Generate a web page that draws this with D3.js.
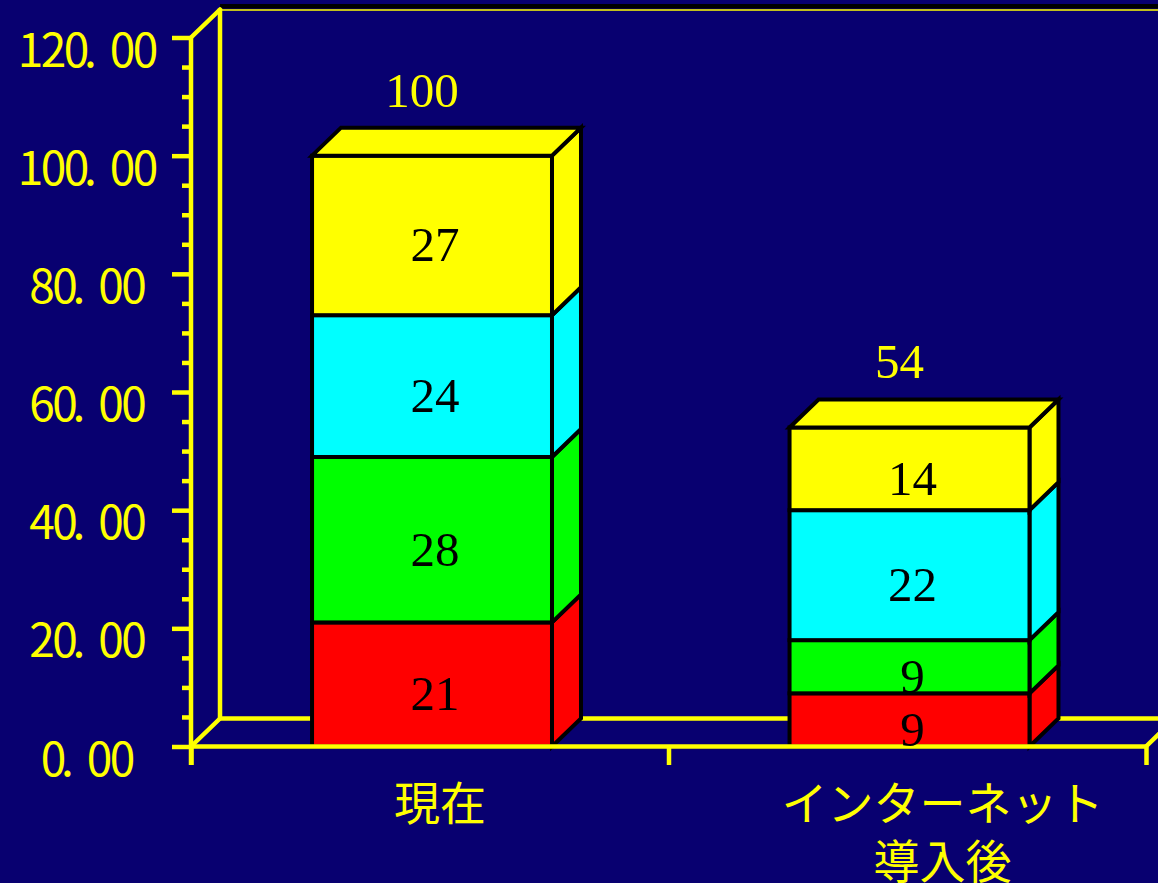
<!DOCTYPE html>
<html>
<head>
<meta charset="utf-8">
<script src="https://cdn.jsdelivr.net/npm/d3@7"></script>
<style>
  html, body { margin: 0; padding: 0; background: #080070; overflow: hidden; }
  svg { display: block; }
</style>
</head>
<body>
<svg id="chart" width="1158" height="883"></svg>
<script>
// ---- data ----
const categories = ["現在", "インターネット導入後"];
const categoryLines = [["現在"], ["インターネット", "導入後"]];
const seriesKeys = ["red", "green", "cyan", "yellow"];
const seriesColors = ["#FF0000", "#00FF00", "#00FFFF", "#FFFF00"];
const seriesRed = [21, 9];
const seriesGreen = [28, 9];
const seriesCyan = [24, 22];
const seriesYellow = [27, 14];
const yTicks = [0, 20, 40, 60, 80, 100, 120];
const yTickLabels = ["0.00", "20.00", "40.00", "60.00", "80.00", "100.00", "120.00"];

// ---- layout ----
const W = 1158, H = 883;
const axisLeftX = 191, axisRightX = 1146;
const dx = 29, dy = 28;            // 3D depth offset
const yellow = "#FFFF00";
const lineW = 4.5;

const svg = d3.select("#chart");
svg.append("rect").attr("width", W).attr("height", H).attr("fill", "#080070");

const y = d3.scaleLinear().domain([0, 120]).range([746.5, 37.5]);
const x = d3.scaleBand().domain(categories).range([axisLeftX, axisRightX]).padding(0);
const bw = x.bandwidth();
const barX = c => x(c) + bw * 0.2535;
const barW = bw * 0.5025;

const rows = categories.map((c, i) => ({
  cat: c,
  red: seriesRed[i], green: seriesGreen[i], cyan: seriesCyan[i], yellow: seriesYellow[i]
}));
const stacked = d3.stack().keys(seriesKeys)(rows);
const color = d3.scaleOrdinal().domain(seriesKeys).range(seriesColors);

// ---- back wall and floor ----
const back = svg.append("g");
back.append("rect")
  .attr("x", axisLeftX + dx).attr("y", y(120) - dy - 5.5)
  .attr("width", W - axisLeftX - dx).attr("height", 4.5)
  .attr("fill", "#000");
back.append("line")
  .attr("x1", axisLeftX + dx).attr("x2", W)
  .attr("y1", y(120) - dy + 0.5).attr("y2", y(120) - dy + 0.5)
  .attr("stroke", yellow).attr("stroke-width", 1.5);
back.append("line")                       // back vertical edge
  .attr("x1", axisLeftX + dx).attr("x2", axisLeftX + dx)
  .attr("y1", y(120) - dy - 1).attr("y2", y(0) - dy)
  .attr("stroke", yellow).attr("stroke-width", lineW);
back.append("line")                       // floor back edge
  .attr("x1", axisLeftX + dx).attr("x2", W)
  .attr("y1", y(0) - dy).attr("y2", y(0) - dy)
  .attr("stroke", yellow).attr("stroke-width", lineW);
[[axisLeftX, y(120)], [axisLeftX, y(0)], [axisRightX, y(0)]].forEach(([px, py]) => {
  back.append("line")
    .attr("x1", px).attr("y1", py).attr("x2", px + dx).attr("y2", py - dy)
    .attr("stroke", yellow).attr("stroke-width", lineW).attr("stroke-linecap", "round");
});

// ---- stacked 3D bars ----
const bars = svg.append("g").attr("stroke", "#000").attr("stroke-width", 4).attr("stroke-linejoin", "miter");
stacked.forEach((layer, li) => {
  layer.forEach((seg, ci) => {
    const c = categories[ci];
    const x0 = barX(c), x1 = x0 + barW;
    const yb = y(seg[0]), yt = y(seg[1]);
    const fill = color(layer.key);
    const g = bars.append("g").attr("fill", fill);
    // right side face
    g.append("path").attr("d", d3.line()([[x1, yb], [x1 + dx, yb - dy], [x1 + dx, yt - dy], [x1, yt]]) + "Z");
    // front face
    g.append("rect").attr("x", x0).attr("y", yt).attr("width", barW).attr("height", yb - yt);
    // top face on the uppermost segment
    if (li === stacked.length - 1) {
      g.append("path").attr("d", d3.line()([[x0, yt], [x0 + dx, yt - dy], [x1 + dx, yt - dy], [x1, yt]]) + "Z");
    }
  });
});

// ---- front axes ----
const front = svg.append("g");
front.append("line")
  .attr("x1", axisLeftX).attr("x2", axisLeftX)
  .attr("y1", y(120)).attr("y2", y(0) + 18.5)
  .attr("stroke", yellow).attr("stroke-width", lineW);
front.append("line")
  .attr("x1", axisLeftX).attr("x2", axisRightX)
  .attr("y1", y(0)).attr("y2", y(0))
  .attr("stroke", yellow).attr("stroke-width", lineW);

// major and minor ticks on the value axis
const majorAxis = d3.axisLeft(y).tickValues(yTicks).tickSize(19).tickFormat("");
const minorAxis = d3.axisLeft(y).tickValues(d3.range(0, 121, 5).filter(v => v % 20 !== 0)).tickSize(9).tickFormat("");
[majorAxis, minorAxis].forEach(ax => {
  const g = front.append("g").attr("transform", `translate(${axisLeftX},0)`).call(ax);
  g.select(".domain").remove();
  g.selectAll(".tick line").attr("stroke", yellow).attr("stroke-width", lineW);
});

// category boundary ticks
const xTickPos = categories.map(c => x(c)).concat([axisRightX]);
const xAxis = d3.axisBottom(d3.scaleIdentity()).tickValues(xTickPos).tickSize(18.5).tickFormat("");
const gx = front.append("g").attr("transform", `translate(0,${y(0)})`).call(xAxis);
gx.select(".domain").remove();
gx.selectAll(".tick line").attr("stroke", yellow).attr("stroke-width", lineW);

// ---- value-axis labels (fixed-cell digits) ----
const cell = 23, labelCX = 88;
const ylab = svg.append("g")
  .attr("fill", yellow)
  .attr("font-family", "'Noto Sans CJK JP', 'Noto Sans', sans-serif")
  .attr("font-size", 46)
  .attr("text-anchor", "middle");
yTicks.forEach((v, i) => {
  const s = yTickLabels[i];
  const n = s.length;
  const xs = Array.from(s).map((ch, k) => {
    const cx = labelCX - n * cell / 2 + cell * (k + 0.5);
    return ch === "." ? cx - 9 : cx;
  });
  ylab.append("text")
    .attr("x", xs.join(" "))
    .attr("y", y(v) + 29)
    .text(s);
});

// ---- category labels ----
const labelNudge = [8, 33];
const clab = svg.append("g")
  .attr("fill", yellow)
  .attr("font-family", "'Noto Sans CJK JP', sans-serif")
  .attr("font-size", 46)
  .attr("text-anchor", "middle");
categories.forEach((c, i) => {
  const cx = barX(c) + barW / 2 + labelNudge[i];
  categoryLines[i].forEach((line, j) => {
    clab.append("text").attr("x", cx).attr("y", 820 + j * 58).text(line);
  });
});

// ---- value labels inside segments ----
const vlab = svg.append("g")
  .attr("font-family", "'Liberation Serif', 'Times New Roman', serif")
  .attr("font-size", 49)
  .attr("text-anchor", "middle");
stacked.forEach(layer => {
  layer.forEach((seg, ci) => {
    const c = categories[ci];
    const v = seg[1] - seg[0];
    vlab.append("text")
      .attr("x", barX(c) + barW / 2 + 3)
      .attr("y", (y(seg[0]) + y(seg[1])) / 2 + 26)
      .attr("fill", "#000")
      .text(v);
  });
});

// ---- totals above bars ----
const totals = rows.map(r => d3.sum(seriesKeys, k => r[k]));
categories.forEach((c, i) => {
  vlab.append("text")
    .attr("x", barX(c) + barW / 2 - 10)
    .attr("y", y(totals[i]) - 49)
    .attr("fill", yellow)
    .text(totals[i]);
});
</script>
</body>
</html>
